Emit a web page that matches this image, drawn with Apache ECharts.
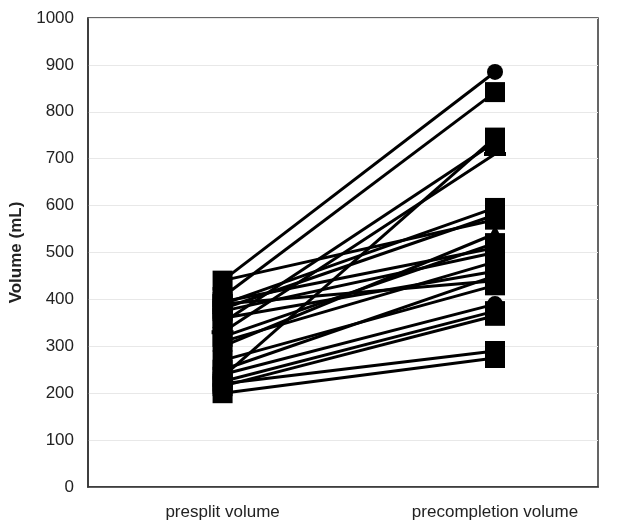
<!DOCTYPE html>
<html lang="en">
<head>
  <meta charset="UTF-8">
  <script src="https://cdn.jsdelivr.net/npm/echarts@6/dist/echarts.min.js"></script>
  <style>
    body { margin: 0; background: #fff; }
    #container { width: 626px; height: 526px; }
  </style>
</head>
<body>
  <div id="container"></div>
  <script>
    // categories on the x axis
    var categories = ['presplit volume', 'precompletion volume'];
    // y axis ticks
    var yTicks = [0, 100, 200, 300, 400, 500, 600, 700, 800, 900, 1000];
    // one entry per subject: volume before split and before completion
    var presplit = [440, 405, 235, 350, 330, 390, 380, 440, 300, 395, 375, 320, 310, 250, 390, 240, 225, 215, 220, 200, 360, 270];
    var precompletion = [885, 842, 745, 735, 710, 595, 580, 570, 540, 510, 500, 520, 480, 450, 440, 390, 375, 365, 290, 275, 460, 430];
    var markers = ['circle', 'rect', 'rect', 'rect', 'dash', 'rect', 'rect', 'rect', 'triangle', 'rect', 'rect', 'rect', 'rect', 'rect', 'rect', 'circle', 'rect', 'rect', 'rect', 'rect', 'rect', 'rect'];

    var myChart = echarts.init(document.getElementById('container'));

    var series = [];
    for (var i = 0; i < presplit.length; i++) {
      var sym = markers[i];
      var size = 20;
      if (sym == 'circle') size = 16;
      if (sym == 'triangle') size = 18;
      if (sym == 'dash') { sym = 'rect'; size = [22, 4]; }
      series.push({
        type: 'line',
        data: [[0, presplit[i]], [1, precompletion[i]]],
        symbol: sym,
        symbolSize: size,
        showSymbol: true,
        itemStyle: { color: '#000' },
        lineStyle: { color: '#000', width: 3 },
        silent: true,
        animation: false
      });
    }

    var option = {
      animation: false,
      grid: {
        left: 87,
        top: 18,
        right: 28,
        bottom: 39,
        show: true,
        borderColor: '#333',
        borderWidth: 1.5
      },
      xAxis: {
        type: 'value',
        min: -0.494,
        max: 1.378,
        splitLine: { show: false },
        axisTick: { show: false },
        axisLine: { show: true, onZero: false, lineStyle: { color: '#333', width: 1.5 } },
        axisLabel: {
          customValues: [0, 1],
          margin: 17,
          fontSize: 17,
          color: '#222',
          fontFamily: 'Liberation Sans',
          formatter: function (v) {
            return categories[Math.round(v)];
          }
        }
      },
      yAxis: {
        type: 'value',
        min: yTicks[0],
        max: yTicks[yTicks.length - 1],
        interval: 100,
        name: 'Volume (mL)',
        nameLocation: 'middle',
        nameGap: 63,
        nameTextStyle: { fontSize: 17, fontWeight: 'bold', color: '#222', fontFamily: 'Liberation Sans' },
        axisLine: { show: true, onZero: false, lineStyle: { color: '#333', width: 1.5 } },
        axisTick: { show: false },
        axisLabel: {
          fontSize: 17, color: '#222', margin: 14, fontFamily: 'Liberation Sans',
          formatter: function (v) { return String(v); }
        },
        splitLine: { lineStyle: { color: '#e8e8e8', width: 1 } }
      },
      series: series
    };
    myChart.setOption(option);
  </script>
</body>
</html>
